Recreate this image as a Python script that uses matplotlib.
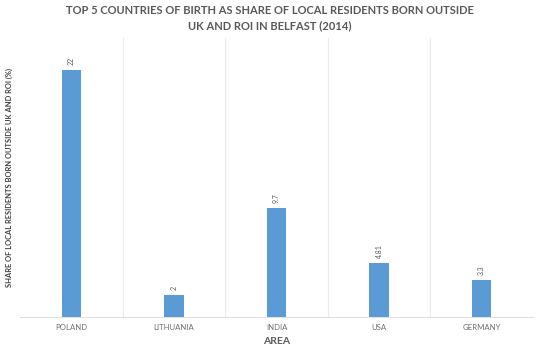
import numpy as np
import matplotlib.pyplot as plt

# data
countries = ["POLAND", "LITHUANIA", "INDIA", "USA", "GERMANY"]
shares = [22, 2, 9.7, 4.81, 3.3]
labels = ["22", "2", "9.7", "4.81", "3.3"]

plt.rcParams['font.family'] = ['Lato', 'DejaVu Sans']

fig = plt.figure(figsize=(5.4, 3.55), dpi=100)
ax = fig.add_axes([20 / 540, 38 / 355, 513 / 540, 279 / 355])

x = np.arange(len(countries))
bars = ax.bar(x, shares, width=0.19, color="#5b9bd5", zorder=3)

for xi, v, lab in zip(x, shares, labels):
    ax.text(xi, v + 0.4, lab, rotation=90, ha="center", va="bottom",
            fontsize=5, color="#595959")

ax.set_xlim(-0.5, len(countries) - 0.5)
ax.set_ylim(0, 24.8)
ax.set_yticks([])
ax.set_xticks(x)
ax.set_xticklabels(countries, fontsize=5.6, color="#6e6e6e")
ax.tick_params(axis="x", length=0, pad=5)

# category separators
for b in np.arange(0.5, len(countries) - 0.5, 1):
    ax.axvline(b, color="#ebebeb", lw=0.8, zorder=1)

for s in ["top", "left", "right"]:
    ax.spines[s].set_visible(False)
ax.spines["bottom"].set_color("#e0e0e0")
ax.spines["bottom"].set_linewidth(0.8)

ax.set_xlabel("AREA", fontsize=7.5, fontweight="bold", color="#595959", labelpad=4)
ax.set_ylabel("SHARE OF LOCAL RESIDENTS BORN OUTSIDE UK AND ROI (%)", fontsize=5.4,
              fontweight="bold", color="#404040", labelpad=5)

fig.suptitle("TOP 5 COUNTRIES OF BIRTH AS SHARE OF LOCAL RESIDENTS BORN OUTSIDE\nUK AND ROI IN BELFAST (2014)",
             fontsize=8, fontweight="bold", color="#595959", y=0.985, linespacing=1.4)

fig.savefig("out.png", dpi=100)
